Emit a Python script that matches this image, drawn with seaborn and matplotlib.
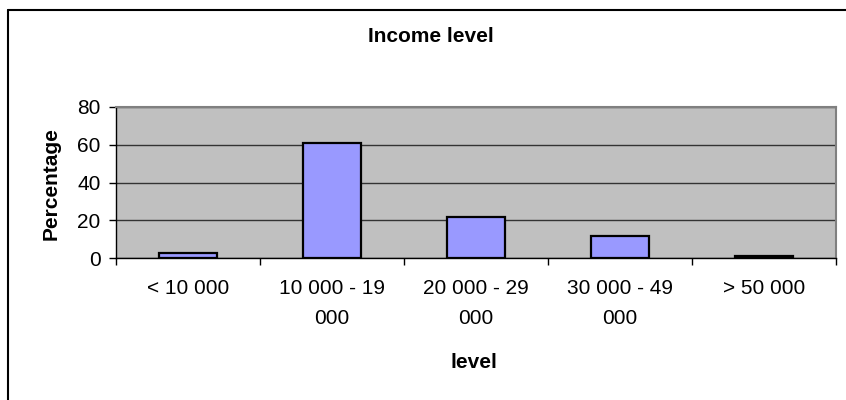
import matplotlib
matplotlib.use("Agg")
import matplotlib.pyplot as plt
import seaborn as sns
import pandas as pd
from matplotlib.lines import Line2D

categories = ["< 10 000", "10 000 - 19\n000", "20 000 - 29\n000", "30 000 - 49\n000", "> 50 000"]
percentages = [3, 61, 22, 11.6, 1]
y_ticks = [0, 20, 40, 60, 80]

sns.set_theme(style="white")
plt.rcParams['font.family'] = ['Liberation Sans', 'DejaVu Sans']
plt.rcParams['text.color'] = 'black'
plt.rcParams['axes.labelcolor'] = 'black'
plt.rcParams['xtick.color'] = 'black'
plt.rcParams['ytick.color'] = 'black'

df = pd.DataFrame({"level": categories, "Percentage": percentages})

FS = 15

fig = plt.figure(figsize=(8.46, 4.0), dpi=100)
fig.patch.set_facecolor("white")
ax_left, ax_right, ax_top, ax_bottom = 116, 835.7, 106.7, 258.3
ax = fig.add_axes([ax_left/846, 1-ax_bottom/400, (ax_right-ax_left)/846, (ax_bottom-ax_top)/400])
ax.set_facecolor("#C0C0C0")

sns.barplot(data=df, x="level", y="Percentage", ax=ax, color="#9999FF",
            width=0.4, edgecolor="black", linewidth=1.6, saturation=1, zorder=3)

ax.set_ylim(0, 80)
ax.set_xlim(-0.5, len(categories) - 0.5)
ax.set_yticks(y_ticks)
ax.set_yticklabels([str(v) for v in y_ticks], fontsize=FS, color="black")
ax.grid(axis="y", color="#333333", linewidth=1.0, zorder=1)
ax.set_axisbelow(True)

ax.set_xticks(range(len(categories)))
ax.set_xticklabels(categories, fontsize=FS, color="black", linespacing=1.75, va="top")
ax.tick_params(axis="x", which="major", length=0, pad=15)
ax.set_xticks([i - 0.5 for i in range(len(categories) + 1)], minor=True)
ax.tick_params(axis="x", which="minor", length=5, width=1, color="black", direction="out", bottom=True)
ax.tick_params(axis="y", length=5, width=1, color="black", direction="out", left=True, pad=6)

for s in ["left", "bottom"]:
    ax.spines[s].set_color("black")
    ax.spines[s].set_linewidth(1.0)
for s in ["top", "right"]:
    ax.spines[s].set_color("#808080")
    ax.spines[s].set_linewidth(1.5)

h = ax_bottom - ax_top
w = ax_right - ax_left
ax.set_xlabel("level", fontsize=FS, fontweight="bold", va="center", color="black")
ax.xaxis.set_label_coords((474 - ax_left) / w, (ax_bottom - 363) / h)
ax.set_ylabel("Percentage", fontsize=FS, fontweight="bold", va="center", color="black")
ax.yaxis.set_label_coords((51 - ax_left) / w, (ax_bottom - 184) / h)

fig.text(431/846, 1 - 36/400, "Income level", fontsize=FS, fontweight="bold",
         ha="center", va="center", color="black")

# chart-area border (top and left visible)
fig.add_artist(Line2D([8/846, 1.0], [1 - 9.5/400, 1 - 9.5/400], transform=fig.transFigure,
                      color="black", linewidth=1.5))
fig.add_artist(Line2D([8/846, 8/846], [0.0, 1 - 9.5/400], transform=fig.transFigure,
                      color="black", linewidth=1.5))

fig.savefig("out.png", dpi=100, facecolor="white")
